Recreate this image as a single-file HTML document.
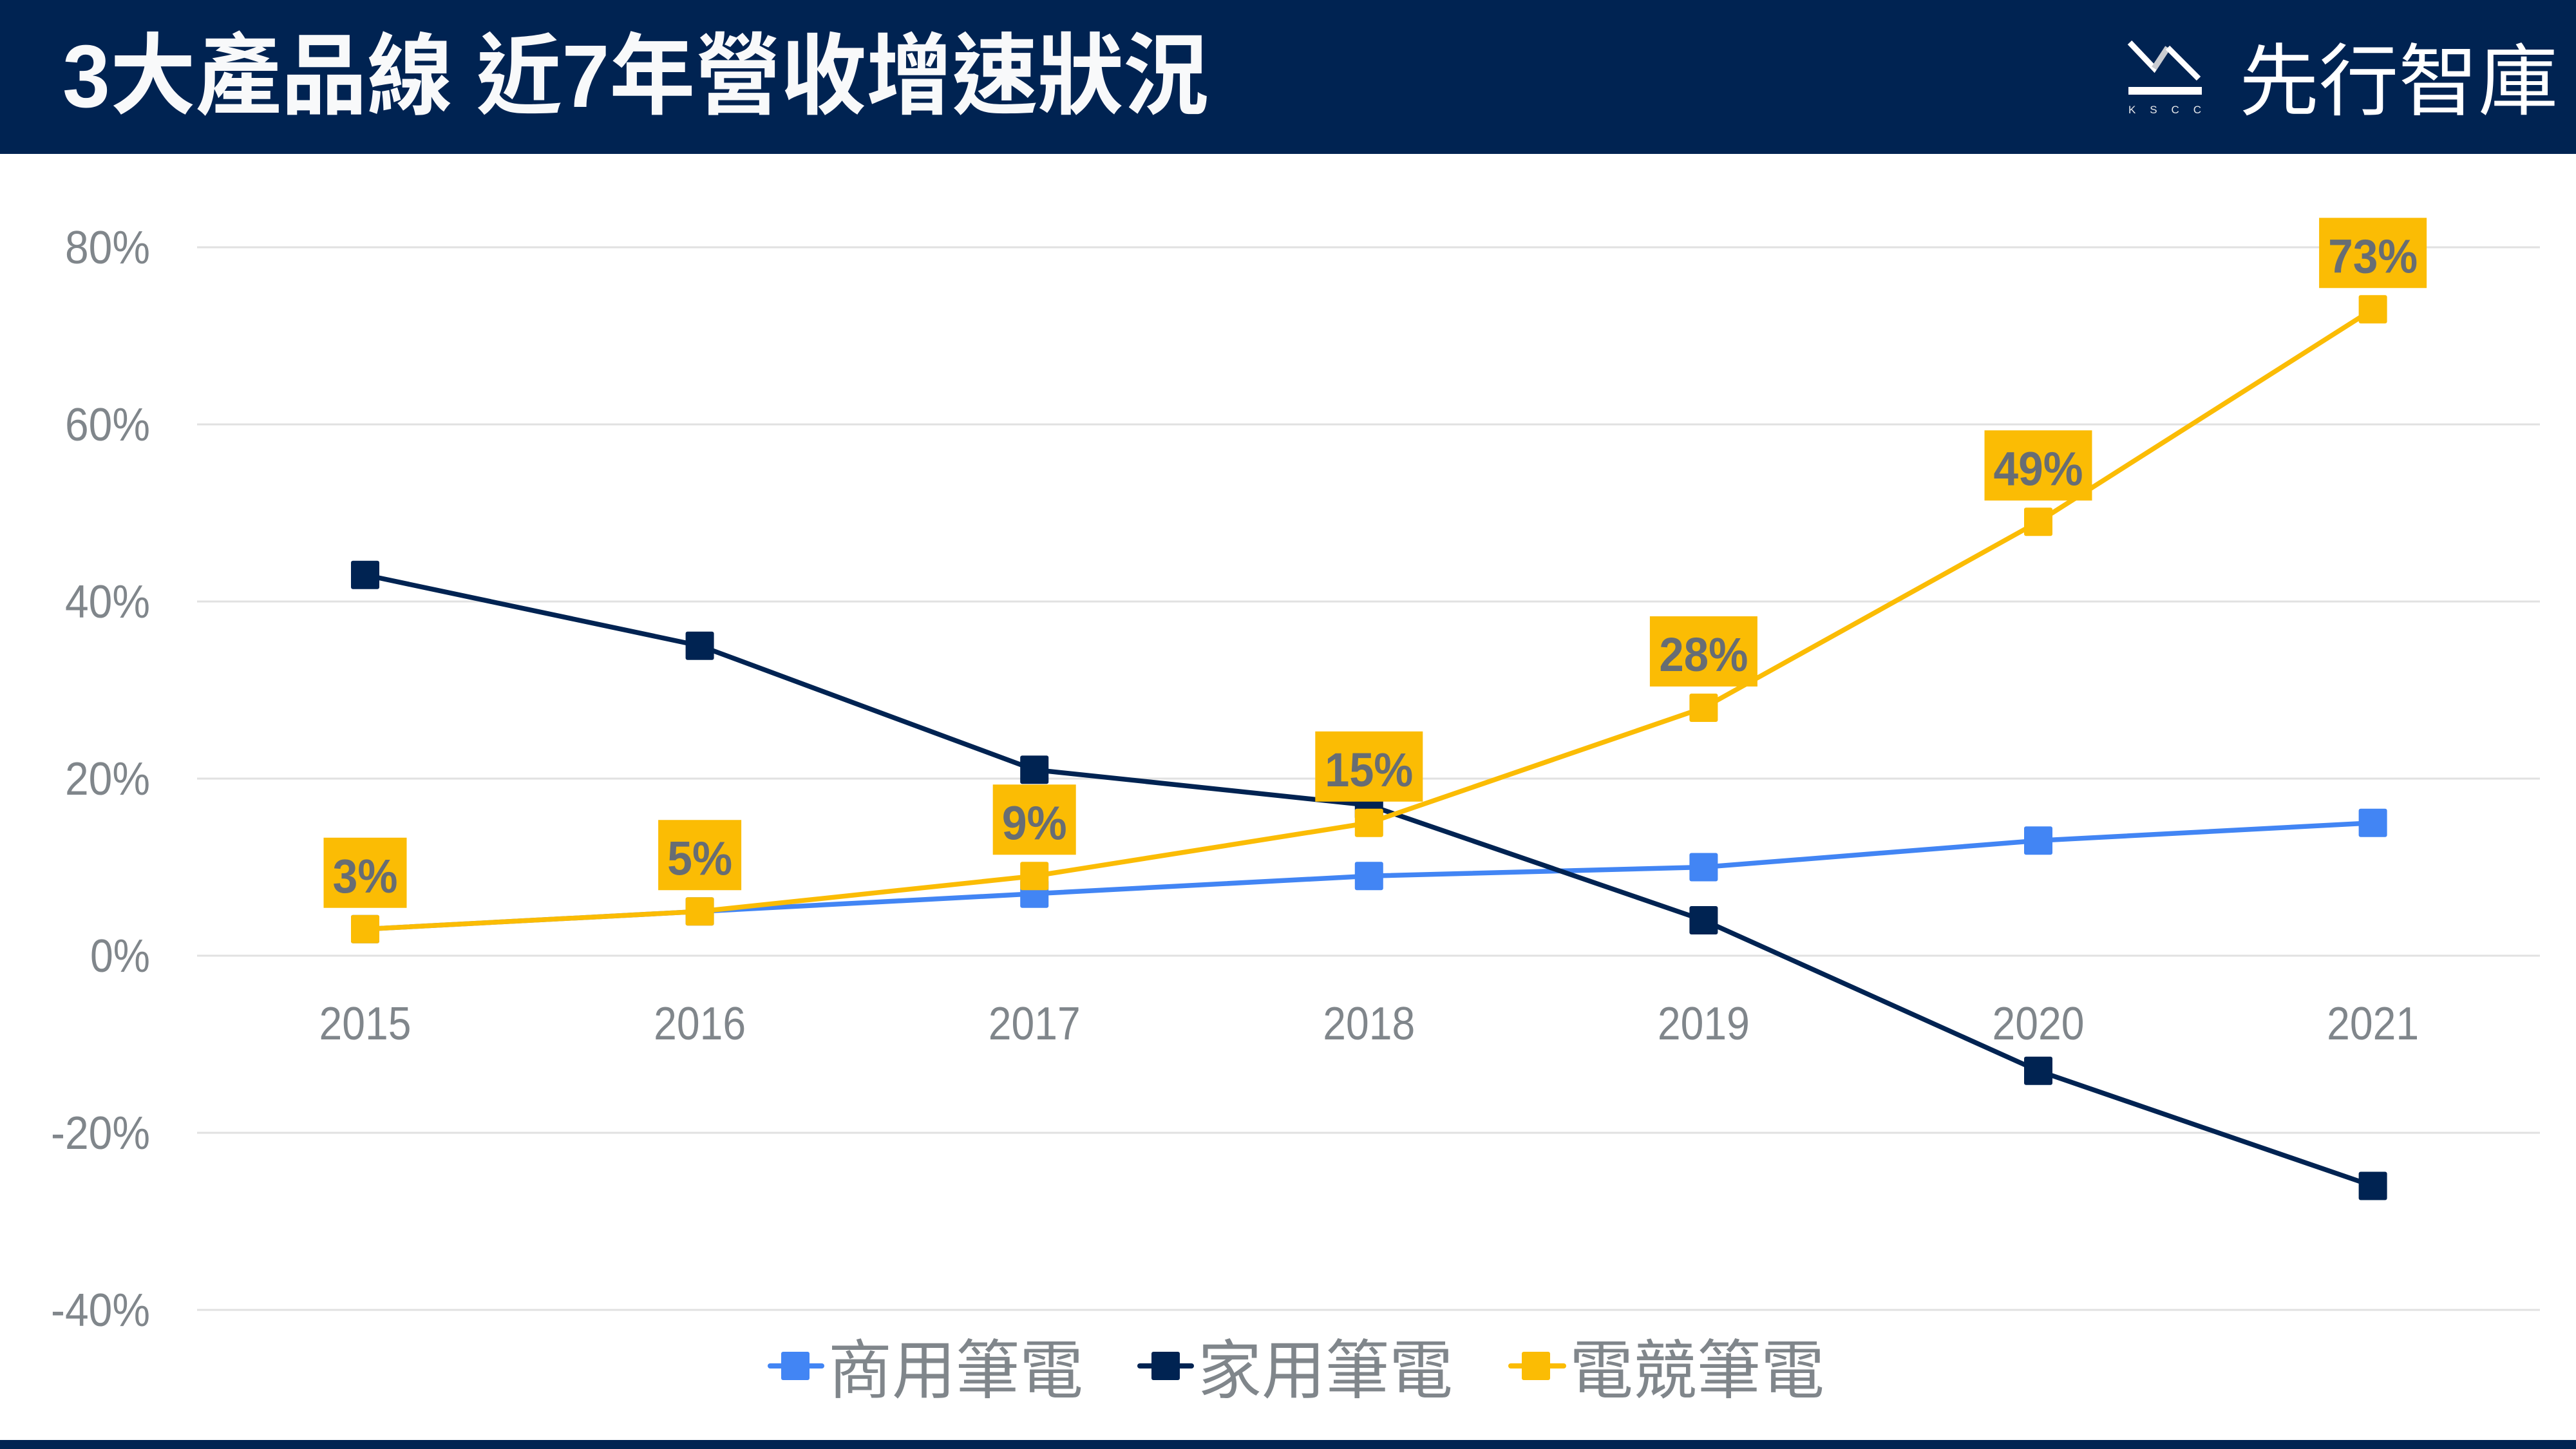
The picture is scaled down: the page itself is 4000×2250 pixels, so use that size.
<!DOCTYPE html>
<html>
<head>
<meta charset="utf-8">
<style>
html,body{margin:0;padding:0;width:4000px;height:2250px;overflow:hidden;background:#fff}
svg{display:block}
text{font-family:"Liberation Sans","Noto Sans CJK TC",sans-serif}
</style>
</head>
<body>
<svg width="4000" height="2250" viewBox="0 0 4000 2250" xmlns="http://www.w3.org/2000/svg">
  <rect x="0" y="0" width="4000" height="2250" fill="#ffffff"/>
  <!-- header -->
  <rect x="0" y="0" width="4000" height="239" fill="#002352"/>
  <text x="97" y="166" font-size="138" font-weight="bold" fill="#f8f9fa" textLength="1780" lengthAdjust="spacingAndGlyphs">3大產品線 近7年營收增速狀況</text>
  <!-- logo -->
  <polyline points="3307,66 3345,106 3366,74" fill="none" stroke="#ffffff" stroke-width="9" stroke-linejoin="miter"/>
  <line x1="3345" y1="106" x2="3366" y2="74" stroke="#c9ccd1" stroke-width="9"/>
  <polyline points="3366,74 3414,122" fill="none" stroke="#ffffff" stroke-width="9"/>
  <rect x="3305" y="135" width="114" height="12" fill="#ffffff"/>
  <text x="3305" y="176" font-size="17" fill="#e6e8eb" textLength="113" lengthAdjust="spacing">KSCC</text>
  <text x="3477" y="169" font-size="122" fill="#ffffff" textLength="495" lengthAdjust="spacingAndGlyphs">先行智庫</text>
  <!-- bottom bar -->
  <rect x="0" y="2236" width="4000" height="14" fill="#002352"/>

  <!-- gridlines -->
  <g stroke="#e1e1e1" stroke-width="3">
    <line x1="306" y1="384" x2="3944" y2="384"/>
    <line x1="306" y1="659" x2="3944" y2="659"/>
    <line x1="306" y1="934" x2="3944" y2="934"/>
    <line x1="306" y1="1209" x2="3944" y2="1209"/>
    <line x1="306" y1="1484" x2="3944" y2="1484"/>
    <line x1="306" y1="1759" x2="3944" y2="1759"/>
    <line x1="306" y1="2034" x2="3944" y2="2034"/>
  </g>

  <!-- y labels -->
  <g font-size="72" fill="#80868b" text-anchor="end">
    <text x="233" y="409" textLength="132" lengthAdjust="spacingAndGlyphs">80%</text>
    <text x="233" y="684" textLength="132" lengthAdjust="spacingAndGlyphs">60%</text>
    <text x="233" y="959" textLength="132" lengthAdjust="spacingAndGlyphs">40%</text>
    <text x="233" y="1234" textLength="132" lengthAdjust="spacingAndGlyphs">20%</text>
    <text x="233" y="1509" textLength="93" lengthAdjust="spacingAndGlyphs">0%</text>
    <text x="233" y="1784" textLength="154" lengthAdjust="spacingAndGlyphs">-20%</text>
    <text x="233" y="2059" textLength="154" lengthAdjust="spacingAndGlyphs">-40%</text>
  </g>

  <!-- x labels -->
  <g font-size="72" fill="#80868b" text-anchor="middle">
    <text x="567" y="1614" textLength="143" lengthAdjust="spacingAndGlyphs">2015</text>
    <text x="1086.6" y="1614" textLength="143" lengthAdjust="spacingAndGlyphs">2016</text>
    <text x="1606.2" y="1614" textLength="143" lengthAdjust="spacingAndGlyphs">2017</text>
    <text x="2125.8" y="1614" textLength="143" lengthAdjust="spacingAndGlyphs">2018</text>
    <text x="2645.4" y="1614" textLength="143" lengthAdjust="spacingAndGlyphs">2019</text>
    <text x="3165" y="1614" textLength="143" lengthAdjust="spacingAndGlyphs">2020</text>
    <text x="3684.6" y="1614" textLength="143" lengthAdjust="spacingAndGlyphs">2021</text>
  </g>

  <!-- blue series 商用筆電 -->
  <polyline points="567,1442.75 1086.6,1415.25 1606.2,1387.75 2125.8,1360.25 2645.4,1346.5 3165,1305.25 3684.6,1277.75" fill="none" stroke="#4285f4" stroke-width="7.5" stroke-linejoin="round"/>
  <g fill="#4285f4">
    <rect x="545" y="1420.75" width="44" height="44" rx="3"/>
    <rect x="1064.6" y="1393.25" width="44" height="44" rx="3"/>
    <rect x="1584.2" y="1365.75" width="44" height="44" rx="3"/>
    <rect x="2103.8" y="1338.25" width="44" height="44" rx="3"/>
    <rect x="2623.4" y="1324.5" width="44" height="44" rx="3"/>
    <rect x="3143" y="1283.25" width="44" height="44" rx="3"/>
    <rect x="3662.6" y="1255.75" width="44" height="44" rx="3"/>
  </g>

  <!-- navy series 家用筆電 -->
  <polyline points="567,892.75 1086.6,1002.75 1606.2,1195.25 2125.8,1250.25 2645.4,1429 3165,1662.75 3684.6,1841.5" fill="none" stroke="#002352" stroke-width="7.5" stroke-linejoin="round"/>
  <g fill="#002352">
    <rect x="545" y="870.75" width="44" height="44" rx="3"/>
    <rect x="1064.6" y="980.75" width="44" height="44" rx="3"/>
    <rect x="1584.2" y="1173.25" width="44" height="44" rx="3"/>
    <rect x="2103.8" y="1228.25" width="44" height="44" rx="3"/>
    <rect x="2623.4" y="1407" width="44" height="44" rx="3"/>
    <rect x="3143" y="1640.75" width="44" height="44" rx="3"/>
    <rect x="3662.6" y="1819.5" width="44" height="44" rx="3"/>
  </g>

  <!-- yellow series 電競筆電 -->
  <polyline points="567,1442.75 1086.6,1415.25 1606.2,1360.25 2125.8,1277.75 2645.4,1099 3165,810.25 3684.6,480.25" fill="none" stroke="#fbbc04" stroke-width="7.5" stroke-linejoin="round"/>
  <g fill="#fbbc04">
    <rect x="545" y="1420.75" width="44" height="44" rx="3"/>
    <rect x="1064.6" y="1393.25" width="44" height="44" rx="3"/>
    <rect x="1584.2" y="1338.25" width="44" height="44" rx="3"/>
    <rect x="2103.8" y="1255.75" width="44" height="44" rx="3"/>
    <rect x="2623.4" y="1077" width="44" height="44" rx="3"/>
    <rect x="3143" y="788.25" width="44" height="44" rx="3"/>
    <rect x="3662.6" y="458.25" width="44" height="44" rx="3"/>
  </g>

  <!-- data labels -->
  <g fill="#fbbc04">
    <rect x="502.5" y="1300.75" width="129" height="109"/>
    <rect x="1022.1" y="1273.25" width="129" height="109"/>
    <rect x="1541.7" y="1218.25" width="129" height="109"/>
    <rect x="2042.3" y="1135.75" width="167" height="109"/>
    <rect x="2561.9" y="957" width="167" height="109"/>
    <rect x="3081.5" y="668.25" width="167" height="109"/>
    <rect x="3601.1" y="338.25" width="167" height="109"/>
  </g>
  <g font-size="74" font-weight="bold" fill="#676d74" text-anchor="middle">
    <text x="567" y="1385.75" textLength="101" lengthAdjust="spacingAndGlyphs">3%</text>
    <text x="1086.6" y="1358.25" textLength="101" lengthAdjust="spacingAndGlyphs">5%</text>
    <text x="1606.2" y="1303.25" textLength="101" lengthAdjust="spacingAndGlyphs">9%</text>
    <text x="2125.8" y="1220.75" textLength="137" lengthAdjust="spacingAndGlyphs">15%</text>
    <text x="2645.4" y="1042" textLength="138" lengthAdjust="spacingAndGlyphs">28%</text>
    <text x="3165" y="753.25" textLength="139" lengthAdjust="spacingAndGlyphs">49%</text>
    <text x="3684.6" y="423.25" textLength="139" lengthAdjust="spacingAndGlyphs">73%</text>
  </g>

  <!-- legend -->
  <line x1="1196" y1="2121" x2="1276" y2="2121" stroke="#4285f4" stroke-width="8" stroke-linecap="round"/>
  <rect x="1213" y="2099" width="44" height="44" rx="3" fill="#4285f4"/>
  <text x="1286" y="2163" font-size="100" fill="#80868b" textLength="396" lengthAdjust="spacingAndGlyphs">商用筆電</text>

  <line x1="1770" y1="2121" x2="1850" y2="2121" stroke="#002352" stroke-width="8" stroke-linecap="round"/>
  <rect x="1788" y="2099" width="44" height="44" rx="3" fill="#002352"/>
  <text x="1860" y="2163" font-size="100" fill="#80868b" textLength="396" lengthAdjust="spacingAndGlyphs">家用筆電</text>

  <line x1="2346" y1="2121" x2="2428" y2="2121" stroke="#fbbc04" stroke-width="8" stroke-linecap="round"/>
  <rect x="2363" y="2099" width="44" height="44" rx="3" fill="#fbbc04"/>
  <text x="2437" y="2163" font-size="100" fill="#80868b" textLength="396" lengthAdjust="spacingAndGlyphs">電競筆電</text>
</svg>
</body>
</html>
